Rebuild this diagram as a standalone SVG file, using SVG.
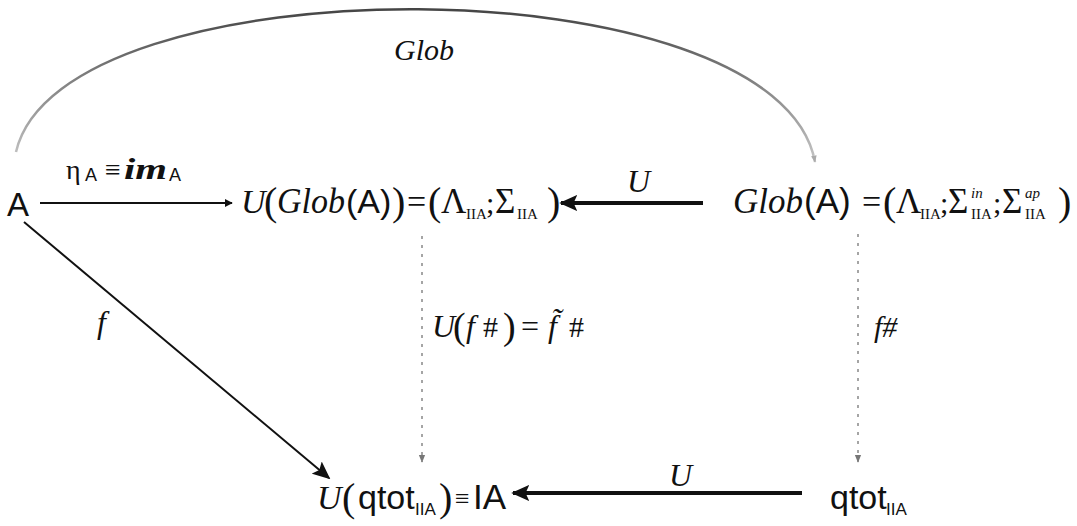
<svg xmlns="http://www.w3.org/2000/svg" width="1077" height="526" viewBox="0 0 1077 526">
<style>
.s{font-family:"Liberation Sans",Arial,sans-serif;fill:#111}
.m{font-family:"Liberation Serif","Times New Roman",serif;fill:#111}
.i{font-style:italic}
.b{font-size:40px}
.sub{font-size:15px}
.thin{stroke:#111;stroke-width:2;fill:none}
.thick{stroke:#111;stroke-width:4;fill:none}
.dot{stroke:#888;stroke-width:1.5;stroke-dasharray:3 6;fill:none}
</style>
<defs>
<marker id="ah" viewBox="0 0 10 10" refX="9" refY="5" markerWidth="8" markerHeight="8" markerUnits="userSpaceOnUse" orient="auto"><path d="M0,0 L10,5 L0,10 z" fill="#111"/></marker>
<marker id="ahT" viewBox="0 0 10 10" refX="9" refY="5" markerWidth="18" markerHeight="16" markerUnits="userSpaceOnUse" orient="auto" preserveAspectRatio="none"><path d="M0,0 L10,5 L0,10 L2,5 z" fill="#111"/></marker>
<marker id="ahD" viewBox="0 0 10 10" refX="9" refY="5" markerWidth="8" markerHeight="8" markerUnits="userSpaceOnUse" orient="auto"><path d="M0,1 L10,5 L0,9 z" fill="#777"/></marker>
<marker id="ahG" viewBox="0 0 10 10" refX="9" refY="5" markerWidth="7" markerHeight="7" markerUnits="userSpaceOnUse" orient="auto"><path d="M0,1 L10,5 L0,9 z" fill="#aaa"/></marker>
<linearGradient id="g" gradientUnits="userSpaceOnUse" x1="0" y1="8" x2="0" y2="160"><stop offset="0" stop-color="#444"/><stop offset="1" stop-color="#c4c4c4"/></linearGradient>
</defs>
<g id="connectors">
<path d="M 16 152 C 60 -40, 778 -40, 815 162" stroke="url(#g)" stroke-width="2.5" fill="none" marker-end="url(#ahG)"/>
<line class="thin" x1="40" y1="203" x2="232" y2="203" marker-end="url(#ah)"/>
<line class="thick" x1="703" y1="203" x2="561" y2="203" marker-end="url(#ahT)"/>
<line class="dot" x1="422" y1="236" x2="422" y2="462" marker-end="url(#ahD)"/>
<line class="dot" x1="858" y1="234" x2="858" y2="462" marker-end="url(#ahD)"/>
<line class="thin" x1="24" y1="222" x2="329" y2="478" stroke-width="2.5" marker-end="url(#ahT)"/>
<line class="thick" x1="802" y1="493" x2="513" y2="493" marker-end="url(#ahT)"/>
<text class="m i" x="394" y="60" font-size="30">Glob</text>
<text class="m" x="66" y="179" font-size="28">η</text>
<text class="s" x="85" y="181" font-size="18">A</text>
<text class="m" x="105" y="179" font-size="28">≡</text>
<text class="m i" x="124" y="179" font-size="30" font-weight="bold" textLength="43" lengthAdjust="spacingAndGlyphs">im</text>
<text class="s" x="169" y="181" font-size="18">A</text>
<text class="m i" x="627" y="192" font-size="32">U</text>
<text class="m i" x="97" y="333" font-size="32">f</text>
<text class="m i" x="432" y="337" font-size="32">U</text>
<text class="m" x="453" y="339" font-size="38">(</text>
<text class="m i" x="466" y="337" font-size="32">f</text>
<text class="m" x="483" y="337" font-size="30">#</text>
<text class="m" x="503" y="339" font-size="38">)</text>
<text class="m" x="521" y="337" font-size="32">=</text>
<text class="m i" x="548" y="337" font-size="32">f̃</text>
<text class="m" x="569" y="337" font-size="30">#</text>
<text class="m i" x="874" y="337" font-size="30">f#</text>
<text class="m i" x="669" y="486" font-size="32">U</text>
</g>
<g id="nA"><text class="s" x="7" y="216" font-size="33">A</text></g>
<g id="nUGlob">
<text class="m i" x="241" y="213" font-size="34">U</text>
<text class="m b" x="264" y="215">(</text>
<text class="m i" x="277" y="213" font-size="35" textLength="68" lengthAdjust="spacingAndGlyphs">Glob</text>
<text class="s" x="346" y="213" font-size="34">(A)</text>
<text class="m b" x="392" y="215">)</text>
<text class="m" x="407" y="213" font-size="34">=</text>
<text class="m b" x="428" y="215">(</text>
<text class="m" x="441" y="213" font-size="35">Λ</text>
<text class="m sub" x="466" y="219">IIA</text>
<text class="m" x="486" y="213" font-size="30">;</text>
<text class="m" x="495" y="213" font-size="35">Σ</text>
<text class="m sub" x="517" y="219">IIA</text>
<text class="m b" x="547" y="215">)</text>
</g>
<g id="nGlob">
<text class="m i" x="733" y="213" font-size="35" textLength="70" lengthAdjust="spacingAndGlyphs">Glob</text>
<text class="s" x="804" y="213" font-size="35">(A)</text>
<text class="m" x="862" y="213" font-size="34">=</text>
<text class="m b" x="883" y="215">(</text>
<text class="m" x="896" y="213" font-size="35">Λ</text>
<text class="m sub" x="920" y="219">IIA</text>
<text class="m" x="940" y="213" font-size="30">;</text>
<text class="m" x="948" y="213" font-size="35">Σ</text>
<text class="m i sub" x="971" y="198">in</text>
<text class="m sub" x="971" y="219">IIA</text>
<text class="m" x="993" y="213" font-size="30">;</text>
<text class="m" x="1002" y="213" font-size="35">Σ</text>
<text class="m i sub" x="1025" y="198">ap</text>
<text class="m sub" x="1025" y="219">IIA</text>
<text class="m b" x="1058" y="215">)</text>
</g>
<g id="nUq">
<text class="m i" x="317" y="509" font-size="34">U</text>
<text class="m b" x="342" y="511">(</text>
<text class="s" x="358" y="509" font-size="34">qtot</text>
<text class="s" x="415" y="515" font-size="17">IIA</text>
<text class="m b" x="439" y="511">)</text>
<text class="m" x="455" y="507" font-size="26">≡</text>
<text class="s" x="473" y="509" font-size="35">IA</text>
</g>
<g id="nq">
<text class="s" x="830" y="509" font-size="34">qtot</text>
<text class="s" x="886" y="515" font-size="17">IIA</text>
</g>
</svg>
